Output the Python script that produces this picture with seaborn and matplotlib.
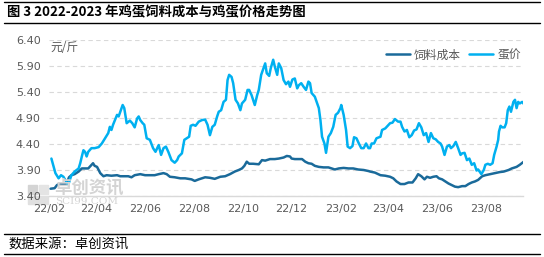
import numpy as np
import pandas as pd
import matplotlib
matplotlib.use("Agg")
import matplotlib.pyplot as plt
import matplotlib.dates as mdates
from matplotlib.lines import Line2D
from matplotlib.patches import Rectangle
import seaborn as sns

# ---------------- data (days since 2022-02-01, value in 元/斤) ----------------
start_date = "2022-02-01"

egg_day = [3, 8, 12, 15, 18, 21, 24, 26, 28, 32, 37, 39, 41, 43, 45, 47, 49, 53, 57, 62,
           66, 70, 74, 76, 78, 80, 85, 87, 89, 92, 94, 97, 101, 104, 107, 110, 112, 114, 117, 119,
           122, 126, 130, 133, 137, 140, 143, 146, 149, 153, 157, 160, 162, 166, 169, 172, 175, 177, 180, 183,
           187, 191, 195, 198, 201, 204, 207, 210, 212, 215, 218, 221, 223, 225, 228, 230, 233, 236, 239, 241,
           245, 248, 250, 253, 257, 260, 262, 265, 268, 270, 272, 275, 277, 280, 282, 285, 287, 290, 293, 296,
           299, 301, 304, 307, 310, 312, 315, 318, 321, 324, 326, 328, 332, 337, 339, 341, 344, 346, 349, 352,
           355, 358, 361, 364, 365, 368, 371, 373, 376, 379, 381, 384, 387, 390, 393, 396, 399, 401, 403, 406,
           409, 414, 416, 420, 423, 426, 429, 432, 436, 439, 441, 444, 447, 450, 453, 456, 459, 462, 465, 468,
           471, 474, 477, 480, 483, 486, 489, 491, 494, 497, 500, 502, 505, 508, 511, 514, 516, 519, 522, 525,
           528, 531, 534, 536, 540, 543, 545, 548, 551, 554, 556, 559, 561, 562, 564, 566, 569, 571, 573, 575,
           577, 580, 582, 584, 586, 588, 591, 593]
egg_price = [4.12, 3.84, 3.74, 3.80, 3.77, 3.69, 3.61, 3.71, 3.80, 3.87, 3.93, 4.03, 4.16, 4.28, 4.25, 4.16, 4.25, 4.32, 4.32, 4.34,
             4.41, 4.51, 4.61, 4.73, 4.67, 4.77, 4.96, 4.93, 5.02, 5.15, 5.09, 4.80, 4.85, 4.80, 4.72, 4.89, 4.93, 4.86, 4.80, 4.77,
             4.51, 4.48, 4.32, 4.25, 4.38, 4.19, 4.32, 4.35, 4.25, 4.09, 4.04, 4.09, 4.16, 4.22, 4.48, 4.51, 4.54, 4.75, 4.77, 4.75,
             4.83, 4.86, 4.87, 4.77, 4.57, 4.73, 4.77, 4.93, 5.02, 5.05, 5.21, 5.25, 5.63, 5.73, 5.69, 5.57, 5.25, 5.18, 5.05, 5.18,
             5.25, 5.44, 5.44, 5.34, 5.15, 5.34, 5.44, 5.73, 5.86, 5.95, 5.76, 5.71, 5.86, 6.02, 5.89, 5.73, 5.95, 5.86, 5.63, 5.55,
             5.60, 5.50, 5.64, 5.66, 5.47, 5.53, 5.57, 5.50, 5.44, 5.60, 5.57, 5.38, 5.31, 5.09, 4.86, 4.54, 4.41, 4.23, 4.54, 4.61,
             4.73, 4.96, 5.00, 5.09, 5.15, 4.96, 4.67, 4.35, 4.32, 4.36, 4.53, 4.51, 4.41, 4.32, 4.32, 4.41, 4.32, 4.32, 4.41, 4.41,
             4.51, 4.54, 4.67, 4.70, 4.75, 4.80, 4.81, 4.88, 4.83, 4.83, 4.73, 4.64, 4.67, 4.53, 4.57, 4.66, 4.68, 4.80, 4.72, 4.57,
             4.61, 4.44, 4.61, 4.51, 4.49, 4.44, 4.41, 4.35, 4.19, 4.35, 4.38, 4.32, 4.36, 4.44, 4.32, 4.19, 4.22, 4.23, 4.09, 4.12,
             4.00, 4.03, 3.89, 3.91, 3.82, 3.90, 4.00, 4.02, 4.00, 4.03, 4.19, 4.35, 4.48, 4.64, 4.75, 4.72, 4.72, 4.80, 5.05, 5.12,
             5.02, 5.21, 5.25, 5.09, 5.21, 5.18, 5.21, 5.17]

feed_day = [2, 7, 10, 14, 18, 22, 25, 28, 32, 37, 41, 45, 49, 52, 55, 57, 60, 62, 64, 68,
            72, 78, 85, 89, 93, 99, 103, 107, 114, 120, 126, 132, 137, 143, 147, 151, 157, 164, 170, 178,
            182, 187, 195, 201, 207, 214, 220, 226, 232, 237, 241, 244, 247, 250, 255, 262, 266, 270, 276, 282,
            287, 293, 297, 301, 303, 307, 312, 316, 320, 324, 328, 332, 337, 343, 349, 353, 357, 362, 368, 374,
            380, 386, 393, 399, 401, 407, 414, 420, 426, 430, 434, 439, 444, 449, 454, 458, 461, 465, 469, 472,
            476, 480, 484, 487, 491, 495, 499, 503, 507, 511, 516, 520, 524, 528, 532, 536, 541, 545, 551, 557,
            563, 568, 574, 578, 584, 588, 593]
feed_cost = [3.54, 3.55, 3.61, 3.64, 3.63, 3.64, 3.76, 3.80, 3.82, 3.87, 3.93, 3.93, 3.93, 3.98, 4.03, 3.98, 3.96, 3.90, 3.84, 3.78,
             3.80, 3.79, 3.80, 3.78, 3.78, 3.78, 3.76, 3.80, 3.82, 3.80, 3.80, 3.80, 3.82, 3.84, 3.82, 3.77, 3.76, 3.74, 3.74, 3.72,
             3.69, 3.72, 3.76, 3.75, 3.73, 3.77, 3.78, 3.82, 3.87, 3.90, 3.93, 3.98, 4.06, 4.02, 4.02, 4.01, 4.09, 4.08, 4.11, 4.11,
             4.12, 4.14, 4.17, 4.16, 4.12, 4.11, 4.11, 4.11, 4.06, 4.03, 4.02, 3.98, 3.96, 3.95, 3.95, 3.93, 3.91, 3.93, 3.94, 3.93,
             3.93, 3.91, 3.90, 3.88, 3.87, 3.85, 3.80, 3.79, 3.77, 3.74, 3.68, 3.63, 3.63, 3.66, 3.66, 3.74, 3.82, 3.78, 3.72, 3.77,
             3.75, 3.77, 3.78, 3.74, 3.72, 3.68, 3.64, 3.61, 3.58, 3.57, 3.59, 3.59, 3.63, 3.66, 3.68, 3.71, 3.78, 3.80, 3.82, 3.84,
             3.86, 3.87, 3.90, 3.93, 3.96, 4.00, 4.06]

series_names = ["饲料成本", "蛋价"]
tick_dates = ["2022-02-01", "2022-04-01", "2022-06-01", "2022-08-01", "2022-10-01", "2022-12-01",
              "2023-02-01", "2023-04-01", "2023-06-01", "2023-08-01"]
y_ticks = [3.40, 3.90, 4.40, 4.90, 5.40, 5.90, 6.40]

title_text = "图 3 2022-2023 年鸡蛋饲料成本与鸡蛋价格走势图"
unit_text = "元/斤"
source_text = "数据来源：卓创资讯"
watermark_cn = "卓创资讯"
watermark_en = "SCI99.COM"

# ---------------- build frame ----------------
t0 = pd.Timestamp(start_date)
df = pd.concat([
    pd.DataFrame({"date": t0 + pd.to_timedelta(feed_day, unit="D"), "value": feed_cost, "series": series_names[0]}),
    pd.DataFrame({"date": t0 + pd.to_timedelta(egg_day, unit="D"), "value": egg_price, "series": series_names[1]}),
], ignore_index=True)

sns.set_theme(style="white")
plt.rcParams["font.family"] = ["Noto Sans CJK SC", "DejaVu Sans"]

W, H = 544, 257
fig = plt.figure(figsize=(W / 100, H / 100), dpi=100)

# watermark (drawn behind the axes)
wm_color = "#D4D4D4"
fig.add_artist(Rectangle((28 / W, 1 - 194 / H), 9 / W, 9 / H, transform=fig.transFigure,
                         color=wm_color, zorder=0))
fig.add_artist(Rectangle((39 / W, 1 - 194 / H), 9 / W, 9 / H, transform=fig.transFigure,
                         color="#E4E4E4", zorder=0))
fig.add_artist(Rectangle((28 / W, 1 - 204 / H), 20 / W, 8 / H, transform=fig.transFigure,
                         color="#E0E0E0", zorder=0))
fig.text(54 / W, 1 - 188 / H, watermark_cn, fontsize=12.5, color=wm_color,
         ha="left", va="center", fontweight="bold", zorder=0)
fig.text(55 / W, 1 - 201 / H, watermark_en, fontsize=7.5, color=wm_color,
         ha="left", va="center", family=["DejaVu Serif"], zorder=0)

ax = fig.add_axes([49 / W, (H - 196) / H, (523 - 49) / W, (196 - 40) / H])
ax.patch.set_alpha(0)

palette = {series_names[0]: "#1A6A9A", series_names[1]: "#00B0F0"}
sns.lineplot(data=df, x="date", y="value", hue="series", palette=palette, ax=ax,
             linewidth=1.8, legend=False, hue_order=series_names)

ax.set_ylim(3.40, 6.40)
ax.set_xlim(t0, pd.Timestamp("2023-09-16"))
ax.set_yticks(y_ticks)
ax.set_yticklabels([f"{v:.2f}" for v in y_ticks])
ax.set_xticks(pd.to_datetime(tick_dates))
ax.xaxis.set_major_formatter(mdates.DateFormatter("%y/%m"))
ax.tick_params(axis="both", length=0, labelsize=8, colors="#595959")
ax.tick_params(axis="y", pad=6)
ax.tick_params(axis="x", pad=6)
ax.set_xlabel("")
ax.set_ylabel("")
for lab in ax.get_xticklabels() + ax.get_yticklabels():
    lab.set_family(["DejaVu Sans"])

ax.grid(axis="y", color="#D9D9D9", linestyle=(0, (4, 3)), linewidth=0.8)
ax.grid(axis="x", visible=False)
ax.set_axisbelow(True)
for s in ["top", "right", "left"]:
    ax.spines[s].set_visible(False)
ax.spines["bottom"].set_color("#D9D9D9")
ax.spines["bottom"].set_linewidth(1.0)

# unit label
ax.text(0.003, 0.995, unit_text, transform=ax.transAxes, fontsize=8.5, color="#595959",
        ha="left", va="top")

# legend
handles = [Line2D([0], [0], color=palette[n], lw=1.8) for n in series_names]
leg = ax.legend(handles, series_names, loc="upper right", bbox_to_anchor=(1.005, 0.975),
                ncol=2, frameon=False, fontsize=8.5, handlelength=2.0, handletextpad=0.35,
                columnspacing=0.7, borderaxespad=0)
for t in leg.get_texts():
    t.set_color("#595959")

# title & rules
fig.text(7 / W, 1 - 12 / H, title_text, fontsize=9.6, fontweight="bold", color="black",
         ha="left", va="center")
for yy in [1.5, 23, 234, 254]:
    fig.add_artist(Line2D([4 / W, 540 / W], [1 - yy / H, 1 - yy / H], color="black", lw=1.0))
fig.text(9 / W, 1 - 244 / H, source_text, fontsize=9.6, color="black", ha="left", va="center")

fig.savefig("out.png", dpi=100)
